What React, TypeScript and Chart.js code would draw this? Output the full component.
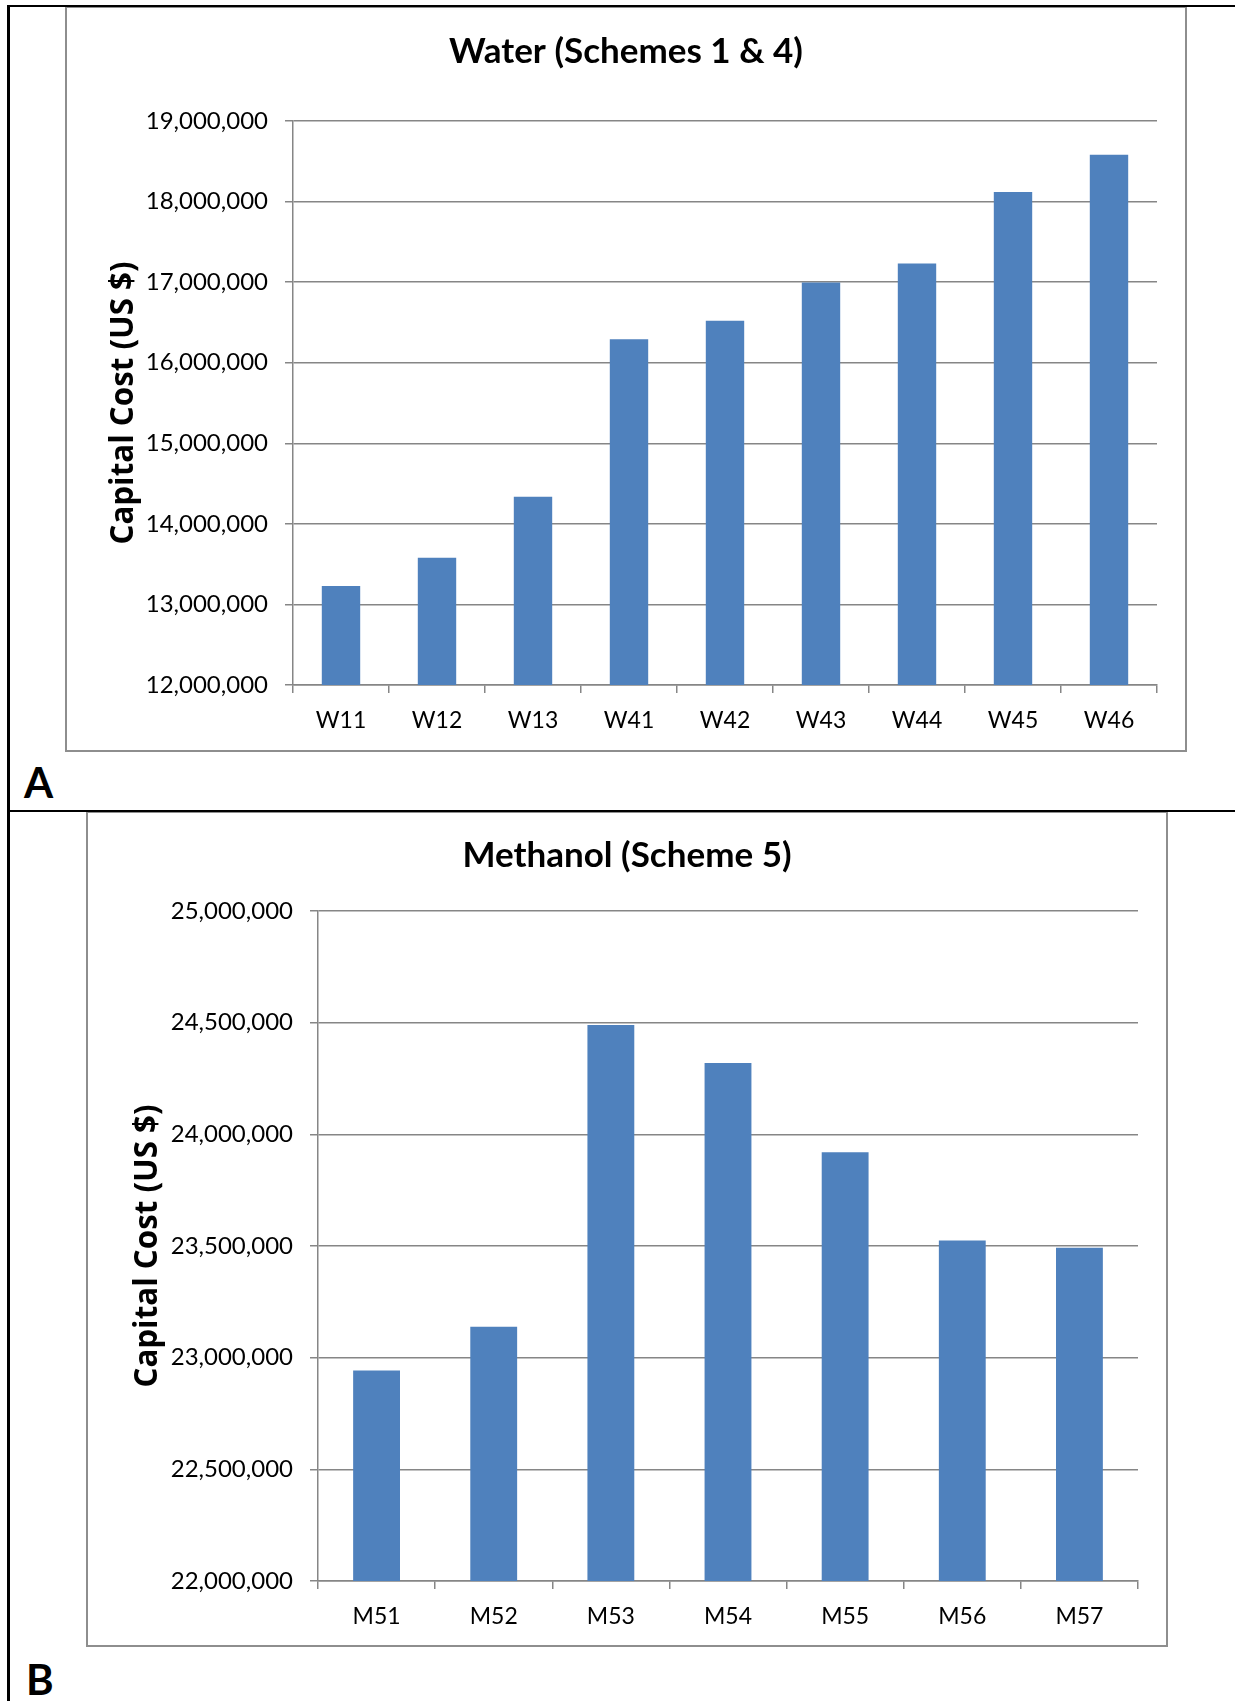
import { useEffect, useRef } from "react";
import { Chart, registerables } from "chart.js";

Chart.register(...registerables);

// Panel A: water schemes
const waterCategories = ["W11", "W12", "W13", "W41", "W42", "W43", "W44", "W45", "W46"];
const waterCosts = [13230000, 13580000, 14335000, 16290000, 16520000, 16995000, 17230000, 18120000, 18580000];
const waterTicks = [12000000, 13000000, 14000000, 15000000, 16000000, 17000000, 18000000, 19000000];

// Panel B: methanol scheme
const methanolCategories = ["M51", "M52", "M53", "M54", "M55", "M56", "M57"];
const methanolCosts = [22943000, 23138000, 24489000, 24319000, 23920000, 23525000, 23492000];
const methanolTicks = [22000000, 22500000, 23000000, 23500000, 24000000, 24500000, 25000000];

const yAxisTitle = "Capital Cost (US $)";

const BAR_BLUE = "#4F81BD";
const AXIS_GREY = "#868686";
const FRAME_GREY = "#8e8e8e";
const TEXT_FONT = "Lato";
const AXIS_TITLE_FONT = "'Open Sans'";

type PanelProps = {
  title: string;
  categories: string[];
  values: number[];
  ticks: number[];
  left: number;
  top: number;
  width: number;
  height: number;
  yAxisWidth: number;
  xAxisHeight: number;
  titlePadTop: number;
  titlePadBottom: number;
  yTitlePad: number;
};

function CostPanel(p: PanelProps) {
  const canvasRef = useRef<HTMLCanvasElement | null>(null);
  const innerW = p.width - 4;
  const innerH = p.height - 4;

  useEffect(() => {
    let chart: Chart | null = null;
    let cancelled = false;

    const build = () => {
      if (cancelled || !canvasRef.current) return;
      chart = new Chart(canvasRef.current, {
        type: "bar",
        data: {
          labels: p.categories,
          datasets: [
            {
              data: p.values,
              backgroundColor: BAR_BLUE,
              borderWidth: 0,
              barPercentage: 0.4,
              categoryPercentage: 1,
            },
          ],
        },
        options: {
          responsive: false,
          animation: false,
          devicePixelRatio: 1,
          layout: { padding: { left: 28, right: 28, top: 0, bottom: 0 } },
          plugins: {
            legend: { display: false },
            tooltip: { enabled: false },
            title: {
              display: true,
              text: p.title,
              color: "#000",
              font: { family: TEXT_FONT, size: 35, weight: "bold", lineHeight: 1.2 },
              padding: { top: p.titlePadTop, bottom: p.titlePadBottom },
            },
          },
          scales: {
            x: {
              offset: true,
              grid: {
                display: true,
                offset: true,
                drawOnChartArea: false,
                drawTicks: true,
                tickLength: 8,
                color: AXIS_GREY,
                lineWidth: 1.5,
              },
              border: { display: true, color: AXIS_GREY, width: 1.5 },
              ticks: {
                color: "#000",
                font: { family: TEXT_FONT, size: 23 },
                padding: 14,
                maxRotation: 0,
                autoSkip: false,
              },
              afterFit: (scale: any) => {
                scale.height = p.xAxisHeight;
              },
            },
            y: {
              min: p.ticks[0],
              max: p.ticks[p.ticks.length - 1],
              afterBuildTicks: (scale: any) => {
                scale.ticks = p.ticks.map((v) => ({ value: v }));
              },
              grid: { color: AXIS_GREY, lineWidth: 1.5, tickLength: 8 },
              border: { display: true, color: AXIS_GREY, width: 1.5 },
              ticks: {
                color: "#000",
                font: { family: TEXT_FONT, size: 24 },
                padding: 17,
                callback: (v: any) => Number(v).toLocaleString("en-US"),
              },
              title: {
                display: true,
                text: yAxisTitle,
                color: "#000",
                font: { family: AXIS_TITLE_FONT, size: 31.3, weight: "bold", lineHeight: 1.2 },
                padding: { top: p.yTitlePad, bottom: 0 },
              },
              afterFit: (scale: any) => {
                scale.width = p.yAxisWidth;
              },
            },
          },
        },
      });
    };

    const fonts = (document as any).fonts;
    if (fonts && fonts.load) {
      Promise.all([
        fonts.load(`23px ${TEXT_FONT}`),
        fonts.load(`bold 35px ${TEXT_FONT}`),
        fonts.load(`bold 31px ${AXIS_TITLE_FONT}`),
      ]).then(build, build);
    } else {
      build();
    }

    return () => {
      cancelled = true;
      if (chart) chart.destroy();
    };
  }, []);

  return (
    <div
      style={{
        position: "absolute",
        left: p.left,
        top: p.top,
        width: p.width,
        height: p.height,
        border: `2px solid ${FRAME_GREY}`,
        boxSizing: "border-box",
        background: "#fff",
      }}
    >
      <canvas ref={canvasRef} width={innerW} height={innerH} style={{ display: "block", width: innerW, height: innerH }} />
    </div>
  );
}

function Rule({ left, top, width, height }: { left: number; top: number; width: number; height: number }) {
  return <div style={{ position: "absolute", left, top, width, height, background: "#000", zIndex: 2 }} />;
}

function PanelLetter({ text, left, top }: { text: string; left: number; top: number }) {
  return (
    <div
      style={{
        position: "absolute",
        left,
        top,
        fontFamily: TEXT_FONT,
        fontWeight: 700,
        fontSize: 42,
        lineHeight: "42px",
        color: "#000",
      }}
    >
      {text}
    </div>
  );
}

export default function App() {
  return (
    <div
      style={{
        position: "absolute",
        left: 0,
        top: 0,
        width: 1235,
        height: 1701,
        overflow: "hidden",
        background: "#fff",
      }}
    >
      <CostPanel
        title="Water (Schemes 1 & 4)"
        categories={waterCategories}
        values={waterCosts}
        ticks={waterTicks}
        left={65}
        top={6}
        width={1122}
        height={746}
        yAxisWidth={198}
        xAxisHeight={65}
        titlePadTop={23}
        titlePadBottom={48}
        yTitlePad={10}
      />
      <CostPanel
        title="Methanol (Scheme 5)"
        categories={methanolCategories}
        values={methanolCosts}
        ticks={methanolTicks}
        left={86}
        top={811}
        width={1082}
        height={836}
        yAxisWidth={202}
        xAxisHeight={64}
        titlePadTop={22}
        titlePadBottom={34}
        yTitlePad={13}
      />
      <Rule left={7} top={5} width={1228} height={2} />
      <Rule left={7} top={5} width={3} height={1696} />
      <Rule left={7} top={810} width={1228} height={2} />
      <PanelLetter text="A" left={24} top={761} />
      <PanelLetter text="B" left={26} top={1658} />
    </div>
  );
}
